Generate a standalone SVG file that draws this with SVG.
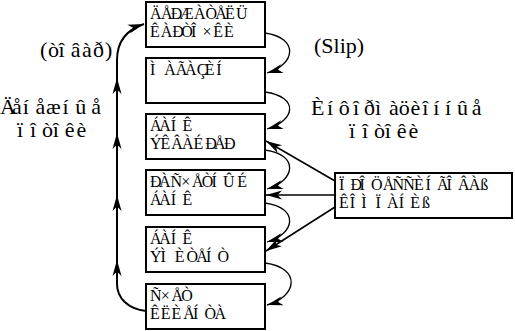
<svg xmlns="http://www.w3.org/2000/svg" width="515" height="331" viewBox="0 0 515 331">
<style>
.box{fill:#fff;stroke:#000;stroke-width:2}
.bt{font-family:"Liberation Serif","Times New Roman",serif;font-size:16px;fill:#000}
.lb{font-family:"Liberation Serif","Times New Roman",serif;font-size:22px;fill:#000}
.cv{fill:none;stroke:#000;stroke-width:1.3}
.ln{fill:none;stroke:#000;stroke-width:1.6}
.mn{fill:none;stroke:#000;stroke-width:2}
.hd{fill:#000;stroke:none}
</style>
<defs>
<marker id="arr" viewBox="-1 -6 18 12" refX="16" refY="0" markerWidth="18" markerHeight="12" markerUnits="userSpaceOnUse" orient="auto" overflow="visible">
<path d="M0,-4.5 L16,0 L0,4.5 L4.5,0 Z" fill="#000"/>
</marker>
</defs>
<g id="connectors">
<path class="mn" d="M146,311 C128,309 117,298 117,284 L117,60 C117,42 126,30 144,24" marker-end="url(#arr)"/>
<polygon class="hd" points="117,78 112.5,94 117,89.5 121.5,94"/>
<polygon class="hd" points="117,133 112.5,149 117,144.5 121.5,149"/>
<polygon class="hd" points="117,195 112.5,211 117,206.5 121.5,211"/>
<polygon class="hd" points="117,260 112.5,276 117,271.5 121.5,276"/>
<path class="cv" d="M265,33 C300,38 295,65 267,73" marker-end="url(#arr)"/>
<path class="cv" d="M265,92 C300,97 295,121 267,129" marker-end="url(#arr)"/>
<path class="cv" d="M265,150 C300,155 295,181 267,189" marker-end="url(#arr)"/>
<path class="cv" d="M265,203 C300,208 295,234 267,242" marker-end="url(#arr)"/>
<path class="cv" d="M265,263 C302,268 297,297 267,305" marker-end="url(#arr)"/>
<path class="ln" d="M335,181 L266,141" marker-end="url(#arr)"/>
<path class="ln" d="M335,195 L266,195" marker-end="url(#arr)"/>
<path class="ln" d="M335,207 L266,251" marker-end="url(#arr)"/>
</g>
<g id="cardholder">
<rect class="box" x="146" y="2" width="119" height="45"/>
<text class="bt" x="150 160.9 170.7 179.6 193.9 205.5 215.3 225.1 236" y="19">ÄÅÐÆÀÒÅËÜ</text>
<text class="bt" x="150 160.7 172.3 181.2 191 202.6 213.3 224" y="37">ÊÀÐÒÎ×ÊÈ</text>
</g>
<g id="store">
<rect class="box" x="146" y="58" width="119" height="45"/>
<text class="bt" x="150 164.2 175.8 185.1 196.7 204.7 216.3" y="75">ÌÀÃÀÇÈÍ</text>
</g>
<g id="acquirer">
<rect class="box" x="146" y="114" width="119" height="45"/>
<text class="bt" x="150 159.2 170.8 182.4" y="131">ÁÀÍÊ</text>
<text class="bt" x="150 160.6 171.3 182 193.6 205.2 214.1 223.9" y="149">ÝÊÂÀÉÐÅÐ</text>
</g>
<g id="settlement">
<rect class="box" x="146" y="170" width="119" height="45"/>
<text class="bt" x="150 158.9 170.5 181.2 191.9 201.7 211.5 223.1 237.3" y="187">ÐÀÑ×ÅÒÍÛÉ</text>
<text class="bt" x="150 159.2 170.8 182.4" y="205">ÁÀÍÊ</text>
</g>
<g id="issuer">
<rect class="box" x="146" y="227" width="119" height="45"/>
<text class="bt" x="150 159.2 170.8 182.4" y="244">ÁÀÍÊ</text>
<text class="bt" x="150 160.6 174.8 186.4 196.2 206 217.6" y="262">ÝÌÈÒÅÍÒ</text>
</g>
<g id="account">
<rect class="box" x="146" y="284" width="119" height="45"/>
<text class="bt" x="150 160.7 171.4 181.2" y="301">Ñ×ÅÒ</text>
<text class="bt" x="150 160.7 171.6 183.2 193 204.6 214.4" y="319">ÊËÈÅÍÒÀ</text>
</g>
<g id="processing">
<rect class="box" x="335" y="173" width="177" height="45"/>
<text class="bt" x="339 350.6 359.5 371.1 382.7 392.5 403.2 413.9 425.5 437.1 446.4 458 468.7 480.3" y="190">ÏÐÎÖÅÑÑÈÍÃÎÂÀß</text>
<text class="bt" x="339 349.7 361.3 375.5 387.1 398.7 410.3 421.9" y="208">ÊÎÌÏÀÍÈß</text>
</g>
<g id="labels">
<text class="lb" x="40 48 58.6 70.7 82.1 92.9 105" y="57">(òîâàð)</text>
<text class="lb" x="0 12.1 22.7 35.4 46 62.4 75.2 91.2" y="114">Äåíåæíûå</text>
<text class="lb" x="17 30 42.1 52.7 64.8 76.6" y="137">ïîòîêè</text>
<text class="lb" x="314" y="53">(Slip)</text>
<text class="lb" x="311 326.9 338.7 353 364 375 388.9 398.7 410.5 422.3 433.3 445.1 456.9 471.7" y="115">Èíôîðìàöèîííûå</text>
<text class="lb" x="349 362 374.1 384.7 396.8 408.6" y="138">ïîòîêè</text>
</g>
</svg>
